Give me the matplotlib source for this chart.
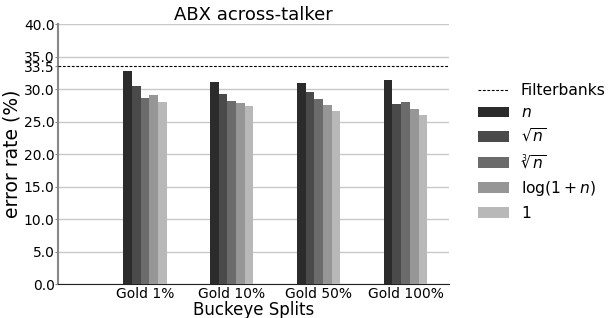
import matplotlib
matplotlib.use('Agg')
import matplotlib.pyplot as plt
import numpy as np

splits = ['Gold 1%', 'Gold 10%', 'Gold 50%', 'Gold 100%']
labels = ['$n$', r'$\sqrt{n}$', r'$\sqrt[3]{n}$', r'$\log(1+n)$', '$1$']
colors = ['#2b2b2b', '#4a4a4a', '#6b6b6b', '#969696', '#b8b8b8']

err_n = [32.8, 31.1, 31.0, 31.4]
err_sqrt = [30.5, 29.3, 29.6, 27.7]
err_cbrt = [28.7, 28.2, 28.5, 28.0]
err_log = [29.1, 27.9, 27.6, 27.0]
err_one = [28.0, 27.4, 26.7, 26.0]
filterbanks = 33.5

series = [err_n, err_sqrt, err_cbrt, err_log, err_one]

fig = plt.figure(figsize=(6.08, 3.18), dpi=100)
ax = fig.add_axes([0.0954, 0.106, 0.643, 0.818])

x = np.arange(len(splits))
width = 0.1
bars = []
for i, (vals, lab, col) in enumerate(zip(series, labels, colors)):
	bars.append(ax.bar(x + (i - 2) * width, vals, width, color=col, label=lab, zorder=3))

fb = ax.axhline(filterbanks, color='black', linestyle=(0, (2.5, 1.5)), linewidth=0.8,
	label='Filterbanks', zorder=4)

ax.set_xlim(-1, 3.5)
ax.set_ylim(0, 40)
ax.set_xticks(x)
ax.set_xticklabels(splits, fontsize=10)
yt = [0, 5, 10, 15, 20, 25, 30, 33.5, 35, 40]
ax.set_yticks(yt)
ax.set_yticklabels([f'{v:.1f}' for v in yt], fontsize=10)
ax.tick_params(axis='x', length=0, pad=2)
ax.tick_params(axis='y', length=2, pad=0.5, color='#888888')
for v in [0, 5, 10, 15, 20, 25, 30, 35, 40]:
	ax.axhline(v, color='#c8c8c8', linewidth=1, zorder=1)

for s in ['top', 'right']:
	ax.spines[s].set_visible(False)
ax.spines['left'].set_color('#888888')
ax.spines['left'].set_linewidth(1.5)
ax.spines['bottom'].set_color('#222222')

ax.set_title('ABX across-talker', fontsize=13, pad=3)
ax.set_ylabel('error rate (%)', fontsize=13.5, labelpad=2)
ax.set_xlabel('Buckeye Splits', fontsize=12, labelpad=0)

fig.legend([fb] + bars, ['Filterbanks'] + labels,
	loc='center left', bbox_to_anchor=(0.763, 0.522), frameon=False, fontsize=11.2,
	handlelength=2.0, handletextpad=0.75, labelspacing=0.45)

fig.savefig('out.png', dpi=100)
